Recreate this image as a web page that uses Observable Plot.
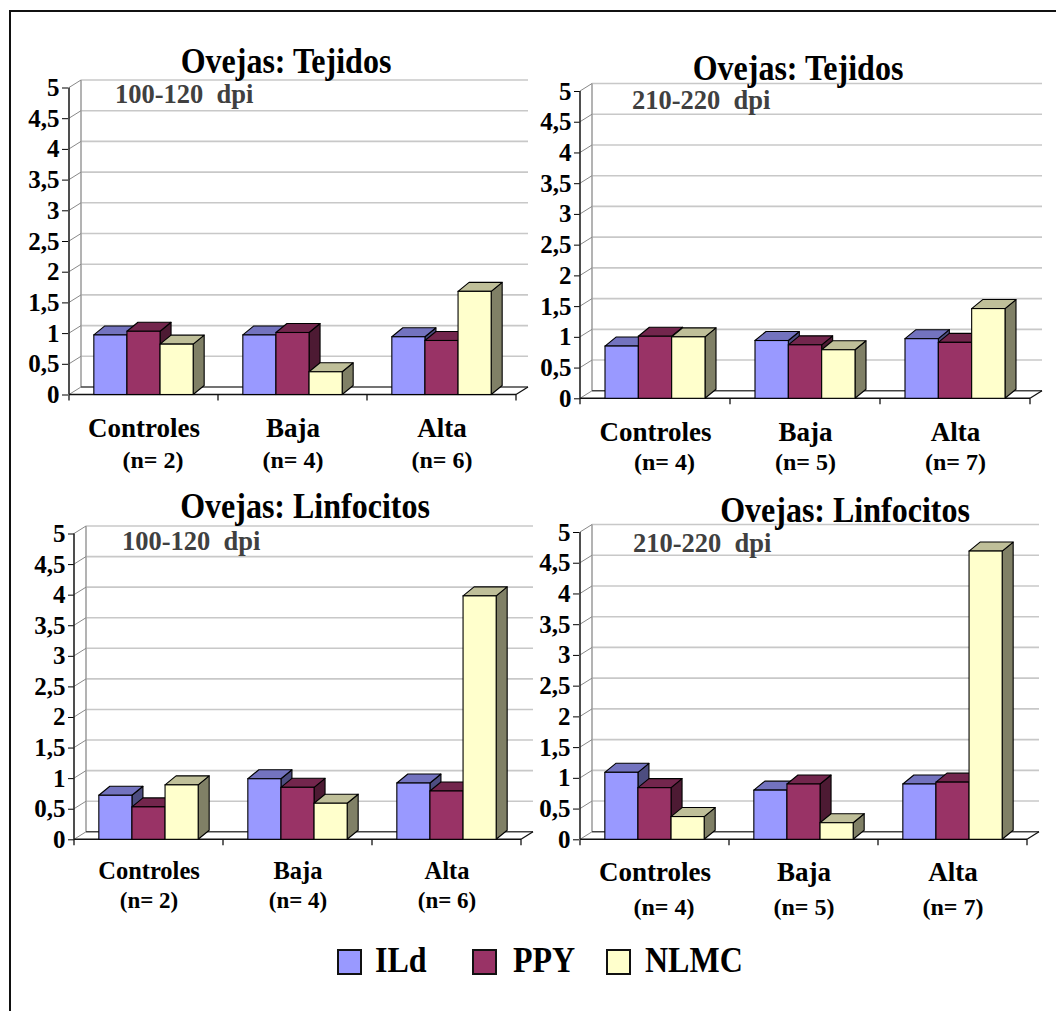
<!DOCTYPE html>
<html>
<head>
<meta charset="utf-8">
<script src="https://cdn.jsdelivr.net/npm/d3@7"></script>
<script src="https://cdn.jsdelivr.net/npm/@observablehq/plot@0.6"></script>
<style>
  html, body { margin: 0; padding: 0; background: #fff; overflow: hidden; }
  #page { position: relative; width: 1056px; height: 1011px; overflow: hidden; background: #fff;
          font-family: "Liberation Serif", "Times New Roman", serif; font-weight: bold; }
  #frame { position: absolute; left: 9px; top: 10px; width: 1200px; height: 1200px;
           border-left: 2px solid #111; border-top: 2px solid #111; }
  .abs { position: absolute; line-height: 1; white-space: pre; }
  .title { font-size: 32px; color: #000; transform: translateX(-50%) scaleY(1.12); transform-origin: 50% 80%; }
  .sub { font-size: 26.5px; color: #404040; transform: scaleY(1.05); transform-origin: 0 80%; }
  .leg { font-size: 32px; color: #000; transform: scaleY(1.12); transform-origin: 0 80%; }
  .box { position: absolute; width: 21px; height: 22px; border: 2px solid #111; }
  svg { overflow: visible; }
  svg .ylab text { font-size: 25px !important; font-weight: bold; }
</style>
</head>
<body>
<div id="page"><div id="frame"></div></div>
<script>
// ---------- data ----------
const categories = ["Controles", "Baja", "Alta"];
const seriesNames = ["ILd", "PPY", "NLMC"];
const yTicks = [0, 0.5, 1, 1.5, 2, 2.5, 3, 3.5, 4, 4.5, 5];

const titles = ["Ovejas: Tejidos", "Ovejas: Tejidos", "Ovejas: Linfocitos", "Ovejas: Linfocitos"];
const subtitles = ["100-120  dpi", "210-220  dpi", "100-120  dpi", "210-220  dpi"];

const nTej100 = ["(n= 2)", "(n= 4)", "(n= 6)"];
const nTej210 = ["(n= 4)", "(n= 5)", "(n= 7)"];
const nLin100 = ["(n= 2)", "(n= 4)", "(n= 6)"];
const nLin210 = ["(n= 4)", "(n= 5)", "(n= 7)"];

const tej100_ILd  = [0.97, 0.97, 0.94];
const tej100_PPY  = [1.03, 1.01, 0.88];
const tej100_NLMC = [0.82, 0.37, 1.68];

const tej210_ILd  = [0.85, 0.94, 0.97];
const tej210_PPY  = [1.01, 0.87, 0.91];
const tej210_NLMC = [1.00, 0.79, 1.46];

const lin100_ILd  = [0.72, 0.99, 0.92];
const lin100_PPY  = [0.53, 0.85, 0.79];
const lin100_NLMC = [0.89, 0.59, 3.98];

const lin210_ILd  = [1.09, 0.80, 0.90];
const lin210_PPY  = [0.84, 0.90, 0.93];
const lin210_NLMC = [0.37, 0.27, 4.69];

const frontColors = ["#9999FF", "#993366", "#FFFFCC"];
const topColors   = ["#7373BF", "#73264D", "#BFBF99"];
const sideColors  = ["#4D4D80", "#4D1A33", "#808066"];

// ---------- helpers ----------
function toRows(a, b, c) {
  const rows = [];
  categories.forEach((cat, i) => {
    rows.push({cat, s: 0, v: a[i]});
    rows.push({cat, s: 1, v: b[i]});
    rows.push({cat, s: 2, v: c[i]});
  });
  return rows;
}

function scene(rows) {
  return (index, scales) => {
    const x = scales.x, y = scales.y;
    const g = d3.create("svg:g");
    const bw = x.bandwidth();
    const xa = x(categories[0]);
    const xb = x(categories[categories.length - 1]) + bw;
    const y0 = y(0);
    const WX = 12, WY = -7.5, BX = 11, BY = -9;
    const pts = a => a.map(p => p.join(",")).join(" ");
    const line = (x1, y1, x2, y2, stroke, w) =>
      g.append("line").attr("x1", x1).attr("y1", y1).attr("x2", x2).attr("y2", y2)
        .attr("stroke", stroke).attr("stroke-width", w);

    g.append("polygon")
      .attr("points", pts([[xa, y0], [xb, y0], [xb + WX, y0 + WY], [xa + WX, y0 + WY]]))
      .attr("fill", "#fff");
    for (const t of yTicks) if (t > 0) line(xa + WX, y(t) + WY, xb + WX, y(t) + WY, "#c8c8c8", 1.6);
    line(xa + WX, y0 + WY, xa + WX, y(5) + WY, "#a0a0a0", 1.6);
    for (const t of yTicks) line(xa, y(t), xa + WX, y(t) + WY, "#888", 1);
    line(xa + WX, y0 + WY, xb + WX, y0 + WY, "#444", 1.6);
    line(xb, y0, xb + WX, y0 + WY, "#111", 1.3);
    line(xa, y0, xb, y0, "#111", 1.6);
    for (let i = 0; i <= categories.length; i++) {
      const xx = xa + i * bw;
      line(xx, y0, xx, y0 + 6, "#111", 1.3);
    }
    line(xa, y0, xa, y(5), "#222", 1.6);

    const barW = bw * 2 / 9;
    for (const r of rows) {
      const left = x(r.cat) + bw / 6 + r.s * barW;
      const right = left + barW;
      const top = y(r.v);
      g.append("polygon")
        .attr("points", pts([[right, top], [right + BX, top + BY], [right + BX, y0 + BY], [right, y0]]))
        .attr("fill", sideColors[r.s]).attr("stroke", "#000").attr("stroke-width", 1.1)
        .attr("stroke-linejoin", "round");
      g.append("polygon")
        .attr("points", pts([[left, top], [right, top], [right + BX, top + BY], [left + BX, top + BY]]))
        .attr("fill", topColors[r.s]).attr("stroke", "#000").attr("stroke-width", 1.1)
        .attr("stroke-linejoin", "round");
      g.append("rect")
        .attr("x", left).attr("y", top).attr("width", barW).attr("height", y0 - top)
        .attr("fill", frontColors[r.s]).attr("stroke", "#000").attr("stroke-width", 1.1);
    }
    return g.node();
  };
}

function panel(cfg) {
  const rows = toRows(cfg.a, cfg.b, cfg.c);
  const svg = Plot.plot({
    width: cfg.W, height: cfg.H,
    marginLeft: cfg.ml, marginRight: cfg.mr, marginTop: cfg.mt, marginBottom: cfg.mb,
    style: {background: "transparent", fontFamily: "'Liberation Serif', 'Times New Roman', serif",
            fontWeight: "bold", fontSize: "25px", color: "#000", overflow: "visible"},
    x: {type: "band", domain: categories, padding: 0, axis: null},
    y: {domain: [0, 5], ticks: yTicks, tickFormat: d => String(d).replace(".", ","),
        tickSize: 6, tickPadding: 3, label: null, axis: "left"},
    marks: [
      scene(rows),
      Plot.text(categories, {x: d => d, text: d => d, frameAnchor: "bottom", dy: cfg.dyCat,
                             fontSize: cfg.fsCat, lineAnchor: "middle"}),
      Plot.text(cfg.n, {x: (d, i) => categories[i], text: (d, i) => (i === 0 ? cfg.pad : "") + d,
                        frameAnchor: "bottom", dy: cfg.dyN, fontSize: cfg.fsN, lineAnchor: "middle"})
    ]
  });
  // enlarge y tick labels (axis groups)
  d3.select(svg).selectAll("g").filter(function () {
    const l = this.getAttribute("aria-label") || "";
    return l.startsWith("y-axis");
  }).classed("ylab", true).attr("font-size", 25);
  svg.style.position = "absolute";
  svg.style.left = cfg.left + "px";
  svg.style.top = cfg.top + "px";
  svg.style.maxWidth = "none";
  document.getElementById("page").appendChild(svg);
}

const panels = [
  {left: 0,   top: 40,  W: 545, H: 440, ml: 68, mr: 28, mt: 47.5, mb: 85.5,
   a: tej100_ILd, b: tej100_PPY, c: tej100_NLMC, n: nTej100, fsCat: 27, fsN: 24, dyCat: 33, dyN: 65, pad: "\u00a0\u00a0\u00a0"},
  {left: 520, top: 40,  W: 536, H: 440, ml: 60, mr: 26, mt: 51, mb: 81.7,
   a: tej210_ILd, b: tej210_PPY, c: tej210_NLMC, n: nTej210, fsCat: 27, fsN: 24, dyCat: 34, dyN: 64, pad: "\u00a0\u00a0\u00a0"},
  {left: 0,   top: 480, W: 545, H: 460, ml: 74, mr: 24, mt: 53.5, mb: 100.7,
   a: lin100_ILd, b: lin100_PPY, c: lin100_NLMC, n: nLin100, fsCat: 24.5, fsN: 23, dyCat: 31, dyN: 61, pad: ""},
  {left: 520, top: 480, W: 536, H: 460, ml: 59, mr: 29, mt: 52, mb: 100.7,
   a: lin210_ILd, b: lin210_PPY, c: lin210_NLMC, n: nLin210, fsCat: 27, fsN: 24, dyCat: 33, dyN: 68, pad: "\u00a0\u00a0\u00a0"}
];
panels.forEach(panel);

const page = document.getElementById("page");
const titlePos = [[286, 46], [798, 53], [305, 491], [845, 495]];
const subPos = [[115, 81], [632, 87], [122, 528], [633, 530]];
titles.forEach((t, i) => {
  const d = document.createElement("div");
  d.className = "abs title"; d.textContent = t;
  d.style.left = titlePos[i][0] + "px"; d.style.top = titlePos[i][1] + "px";
  page.appendChild(d);
});
subtitles.forEach((t, i) => {
  const d = document.createElement("div");
  d.className = "abs sub"; d.textContent = t;
  d.style.left = subPos[i][0] + "px"; d.style.top = subPos[i][1] + "px";
  page.appendChild(d);
});

const legBox = [337, 472, 606];
const legText = [375, 513, 645];
seriesNames.forEach((s, i) => {
  const b = document.createElement("div");
  b.className = "box"; b.style.left = legBox[i] + "px"; b.style.top = "949px";
  b.style.background = frontColors[i];
  page.appendChild(b);
  const t = document.createElement("div");
  t.className = "abs leg"; t.textContent = s;
  t.style.left = legText[i] + "px"; t.style.top = "945px";
  page.appendChild(t);
});
</script>
</body>
</html>
